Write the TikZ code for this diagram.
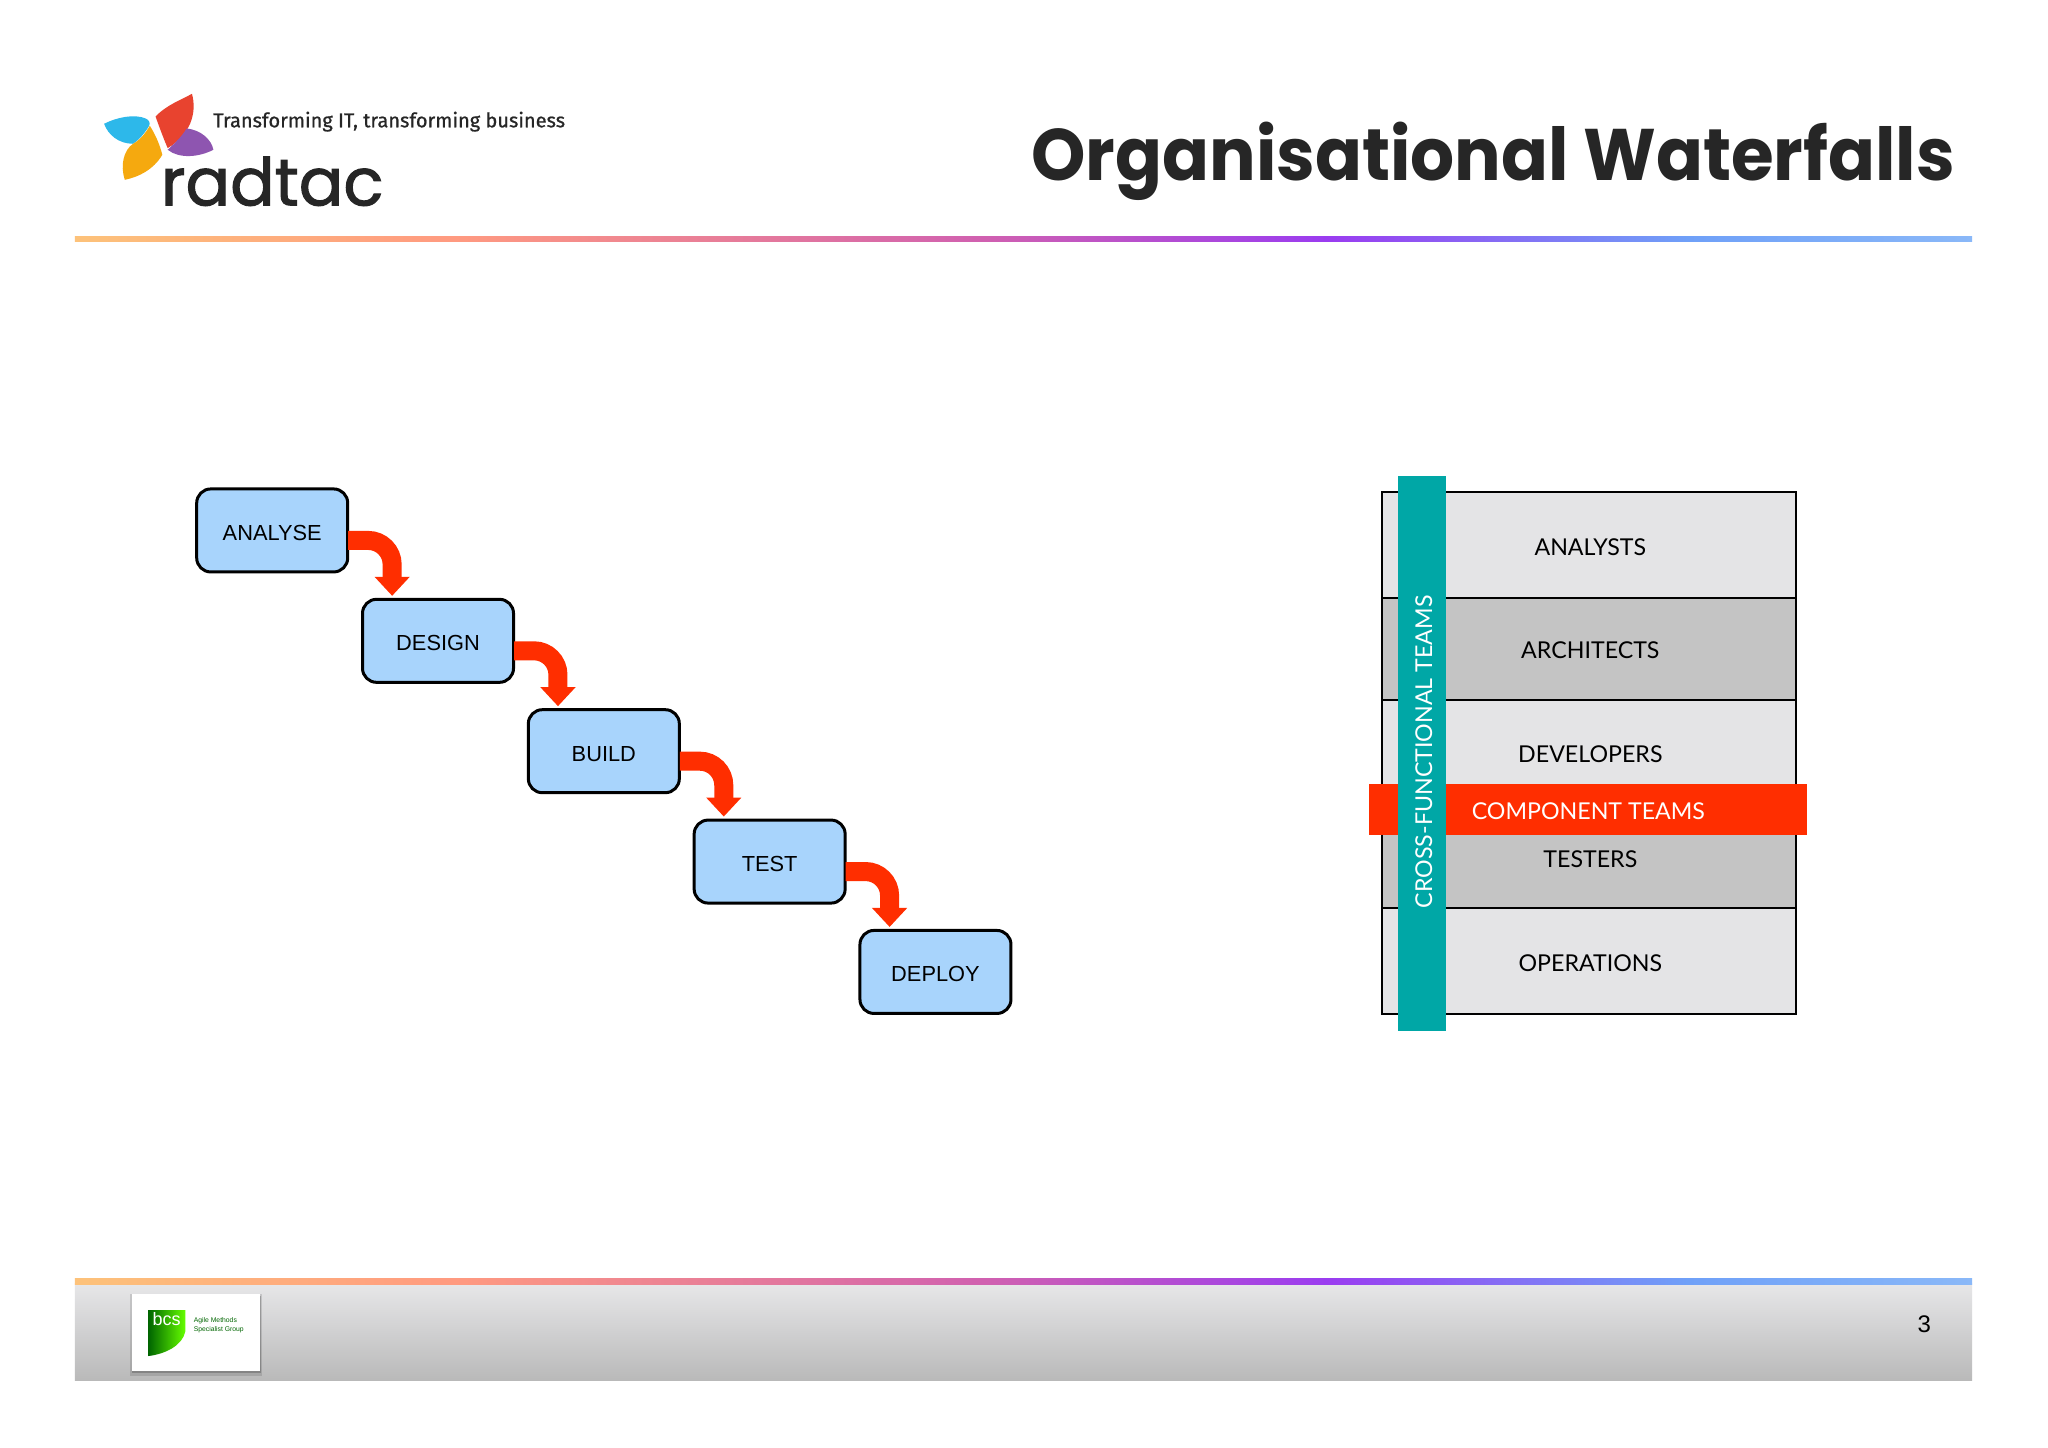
\documentclass[tikz,border=0pt]{standalone}
\usepackage{fontspec}
\usetikzlibrary{calc,arrows.meta}
\setmainfont{Liberation Sans}
\newfontfamily\titlefont{Poppins}
\newfontfamily\logofont[FakeBold=1.6]{Poppins}
\newfontfamily\gillfont{Lato}
\newfontfamily\tagfont[FakeBold=0.8]{Fira Sans}
\definecolor{boxblue}{HTML}{A8D4FC}
\definecolor{flowred}{HTML}{FF2E00}
\definecolor{tealbar}{HTML}{00A7A6}
\definecolor{rowlight}{HTML}{E4E4E6}
\definecolor{rowdark}{HTML}{C4C4C4}
\definecolor{inkdark}{HTML}{262626}
\definecolor{petalred}{HTML}{E8432F}
\definecolor{petalblue}{HTML}{2DB8EA}
\definecolor{petalyellow}{HTML}{F5A90F}
\definecolor{petalviolet}{HTML}{8E55B0}
\definecolor{rb0}{HTML}{FDC27A}
\definecolor{rb1}{HTML}{FF9A80}
\definecolor{rb2}{HTML}{D060B0}
\definecolor{rb3}{HTML}{9A3CF0}
\definecolor{rb4}{HTML}{6FA0F8}
\definecolor{rb5}{HTML}{8AB8F8}
\pgfdeclarehorizontalshading{rainbowline}{100bp}{
 color(0bp)=(rb0); color(25bp)=(rb0); color(35bp)=(rb1); color(49bp)=(rb2); color(58bp)=(rb3); color(67.5bp)=(rb4); color(75bp)=(rb5); color(100bp)=(rb5)}
\tikzset{
 stagebox/.style={draw=black,line width=1.5pt,fill=boxblue,rounded corners=7pt,minimum width=75.5pt,minimum height=41.5pt,inner sep=0pt,text height=9.8pt,text depth=0pt,font=\fontsize{10.9pt}{12pt}\selectfont},
 flow/.style={draw=flowred,line width=9.5pt,rounded corners=12pt,-{Triangle[length=9.5pt,width=17pt]}},
 rowbox/.style={draw=black,line width=1pt},
 rowtext/.style={font=\gillfont\fontsize{11.6pt}{13pt}\selectfont,text=black,inner sep=0pt},
 rainbow/.style={shading=rainbowline},
}
\begin{document}
\begin{tikzpicture}[x=0.49855pt,y=-0.49855pt]
\useasboundingbox (0,0) rectangle (2054,1451.3);
\fill[white] (0,0) rectangle (2054,1451.3);
% logo
\begin{scope}[shift={(60,70)},x=0.17857pt,y=-0.16667pt]
\fill[petalred] (268,140) .. controls (300,105) and (340,90) .. (370,72) .. controls (385,130) and (365,195) .. (302,235) .. controls (290,205) and (278,170) .. (268,140) -- cycle;
\fill[petalblue] (124,162) .. controls (160,142) and (210,132) .. (240,146) .. controls (250,150) and (254,160) .. (250,168) .. controls (238,190) and (222,210) .. (205,222) .. controls (165,222) and (135,195) .. (124,162) -- cycle;
\fill[petalyellow] (252,168) .. controls (268,195) and (280,225) .. (287,255) .. controls (262,300) and (220,322) .. (182,330) .. controls (168,285) and (180,240) .. (205,222) .. controls (225,210) and (240,190) .. (252,168) -- cycle;
\fill[petalviolet] (355,176) .. controls (395,180) and (425,210) .. (430,240) .. controls (390,262) and (335,268) .. (302,240) .. controls (322,220) and (342,200) .. (355,176) -- cycle;
\end{scope}
\node[anchor=base west,inner sep=0pt,text=inkdark] (logotext) at (161,206) {\logofont\fontsize{33pt}{36pt}\selectfont radtac};
\node[anchor=west,inner sep=0pt,text=inkdark] (tagline) at (213.5,122) {\tagfont\fontsize{10pt}{12pt}\selectfont Transforming IT, transforming business};
% title
\node[anchor=base east,inner sep=0pt,text=inkdark,xscale=0.948] (title) at (1961,181.5) {\titlefont\bfseries\fontsize{36.5pt}{42pt}\selectfont Organisational Waterfalls};
% rainbow rules
\shade[rainbow] (75,237) rectangle (1978,242.5);
\fill[top color=rowlight!90!white,bottom color=gray!55!white] (75,1287) rectangle (1978,1385);
\shade[rainbow] (75,1282.5) rectangle (1978,1288);
% stages
\node[stagebox] (analyse) at (273,532) {ANALYSE};
\node[stagebox] (design) at (439.3,642.7) {DESIGN};
\node[stagebox] (build) at (605.6,753.4) {BUILD};
\node[stagebox] (test) at (771.9,864.1) {TEST};
\node[stagebox] (deploy) at (938.2,974.8) {DEPLOY};
\foreach \a/\b in {analyse/design,design/build,build/test,test/deploy}{
 \draw[flow] ($(\a.east)+(-1,10)$) -| ($(\b.north)+(-46,-2)$);
}
% layers
\draw[rowbox,fill=rowlight] (1386,493.5) rectangle (1801.7,599.5);
\draw[rowbox,fill=rowdark] (1386,599.5) rectangle (1801.7,702.5);
\draw[rowbox,fill=rowlight] (1386,702.5) rectangle (1801.7,807);
\draw[rowbox,fill=rowdark] (1386,807) rectangle (1801.7,911);
\draw[rowbox,fill=rowlight] (1386,911) rectangle (1801.7,1017);
\node[rowtext] (analysts) at (1595,548.5) {ANALYSTS};
\node[rowtext] (architects) at (1595,652.5) {ARCHITECTS};
\node[rowtext] (developers) at (1595,756.5) {DEVELOPERS};
\node[rowtext] (testers) at (1595,862) {TESTERS};
\node[rowtext] (operations) at (1595,966.5) {OPERATIONS};
\fill[flowred] (1373,786) rectangle (1812,837);
\node[rowtext,text=white] (component) at (1593,814) {COMPONENT TEAMS};
\fill[tealbar] (1402,477) rectangle (1450.5,1034);
\node[rowtext,text=white,rotate=90] (cross) at (1428,754) {CROSS-FUNCTIONAL TEAMS};
% footer card
\fill[black,opacity=0.12] (130,1298) rectangle (263,1380);
\fill[black,opacity=0.2] (132,1300) rectangle (262,1377);
\fill[white] (132,1298) rectangle (261,1375);
\shade[left color=green!40!black,right color=green!60!yellow] (149,1314) -- (186,1314) -- (186,1335) .. controls (183,1350) and (165,1358) .. (149,1360) -- cycle;
\node[inner sep=0pt,text=white] (bcs) at (167,1323) {\fontsize{9pt}{9pt}\selectfont bcs};
\node[anchor=west,inner sep=0pt,align=left,text=green!40!black,font=\fontsize{3.4pt}{4.4pt}\selectfont] (agile) at (194,1329) {Agile Methods\\Specialist Group};
\node[inner sep=0pt,text=black] (pagenum) at (1930,1328) {\fontsize{12pt}{14pt}\selectfont 3};
\end{tikzpicture}
\end{document}
